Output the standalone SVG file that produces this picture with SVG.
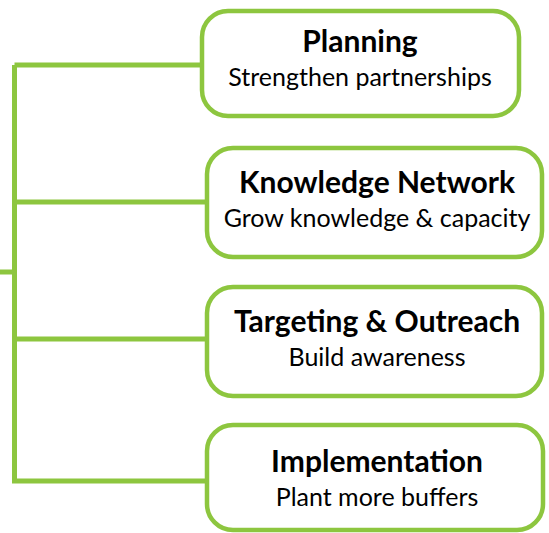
<svg xmlns="http://www.w3.org/2000/svg" width="549" height="533" viewBox="0 0 549 533">
<style>
.box{fill:#fff;stroke:#8dc63f;stroke-width:4.5}
.ln{fill:none;stroke:#8dc63f;stroke-width:5}
.t{font-family:Lato,"Open Sans",sans-serif;font-weight:bold;font-size:30px;fill:#000;text-anchor:middle}
.s{font-family:Lato,"Open Sans",sans-serif;font-size:25px;fill:#000;text-anchor:middle}
</style>
<rect width="549" height="533" fill="#fff"/>
<g id="connectors">
<path class="ln" d="M0 272H14.5M14.5 65V481H207M14.5 65H202M14.5 202H207M14.5 339H207"/>
</g>
<g id="planning">
<rect class="box" x="202" y="11" width="317" height="105" rx="26"/>
<text class="t" x="360" y="52">Planning</text>
<text class="s" x="360" y="86">Strengthen partnerships</text>
</g>
<g id="knowledge">
<rect class="box" x="207" y="148" width="335" height="109" rx="26"/>
<text class="t" x="377" y="193">Knowledge Network</text>
<text class="s" x="377" y="227">Grow knowledge &amp; capacity</text>
</g>
<g id="targeting">
<rect class="box" x="207" y="287" width="335" height="109" rx="26"/>
<text class="t" x="377" y="332">Targeting &amp; Outreach</text>
<text class="s" x="377" y="366">Build awareness</text>
</g>
<g id="implementation">
<rect class="box" x="207" y="425" width="336" height="105" rx="26"/>
<text class="t" x="377" y="472">Implementation</text>
<text class="s" x="377" y="506">Plant more buffers</text>
</g>
</svg>
